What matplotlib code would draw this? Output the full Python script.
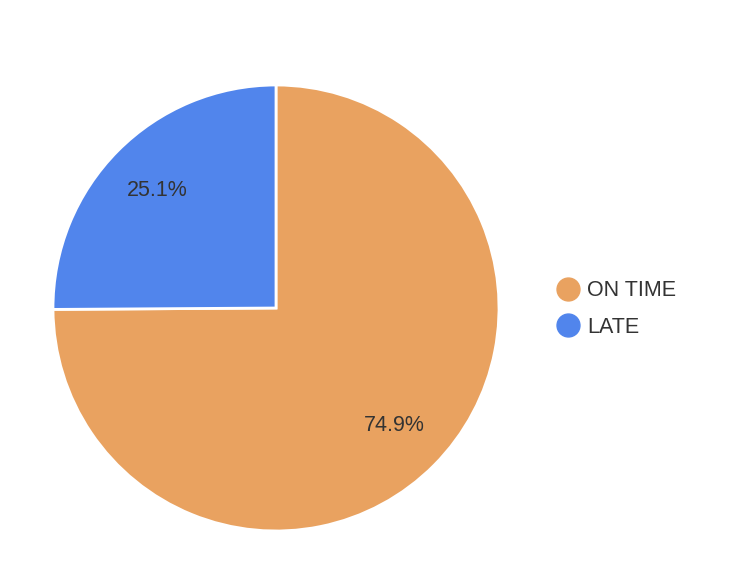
import matplotlib
matplotlib.use("Agg")
import matplotlib.pyplot as plt
from matplotlib.lines import Line2D

categories = ["ON TIME", "LATE"]
values = [74.9, 25.1]
colors = ["#E9A260", "#5185EC"]

plt.rcParams['font.family'] = ['Liberation Sans', 'DejaVu Sans']

W, H = 736, 578
fig = plt.figure(figsize=(W / 100, H / 100), dpi=100)
cx, cy, r = 276, 308, 223
ax = fig.add_axes([(cx - r) / W, (H - cy - r) / H, 2 * r / W, 2 * r / H])

wedges, texts, autotexts = ax.pie(
    values, colors=colors, startangle=90, counterclock=False,
    autopct='%1.1f%%', pctdistance=0.75, radius=1,
    wedgeprops=dict(edgecolor='white', linewidth=2),
    textprops=dict(fontsize=15.5, color='#333333'))
ax.set_xlim(-1.0, 1.0)
ax.set_ylim(-1.0, 1.0)
ax.set_aspect('equal')
ax.axis('off')

handles = [Line2D([0], [0], marker='o', linestyle='none', markersize=16.5,
                  markerfacecolor=c, markeredgecolor=c) for c in colors]
leg = fig.legend(handles, categories, loc='center left',
                 bbox_to_anchor=(546 / W, (H - 309) / H), frameon=False,
                 fontsize=15.5, handletextpad=0.4, labelspacing=0.72,
                 handlelength=1.0, borderpad=0)
for t in leg.get_texts():
    t.set_color('#333333')

fig.savefig("out.png", dpi=100)
